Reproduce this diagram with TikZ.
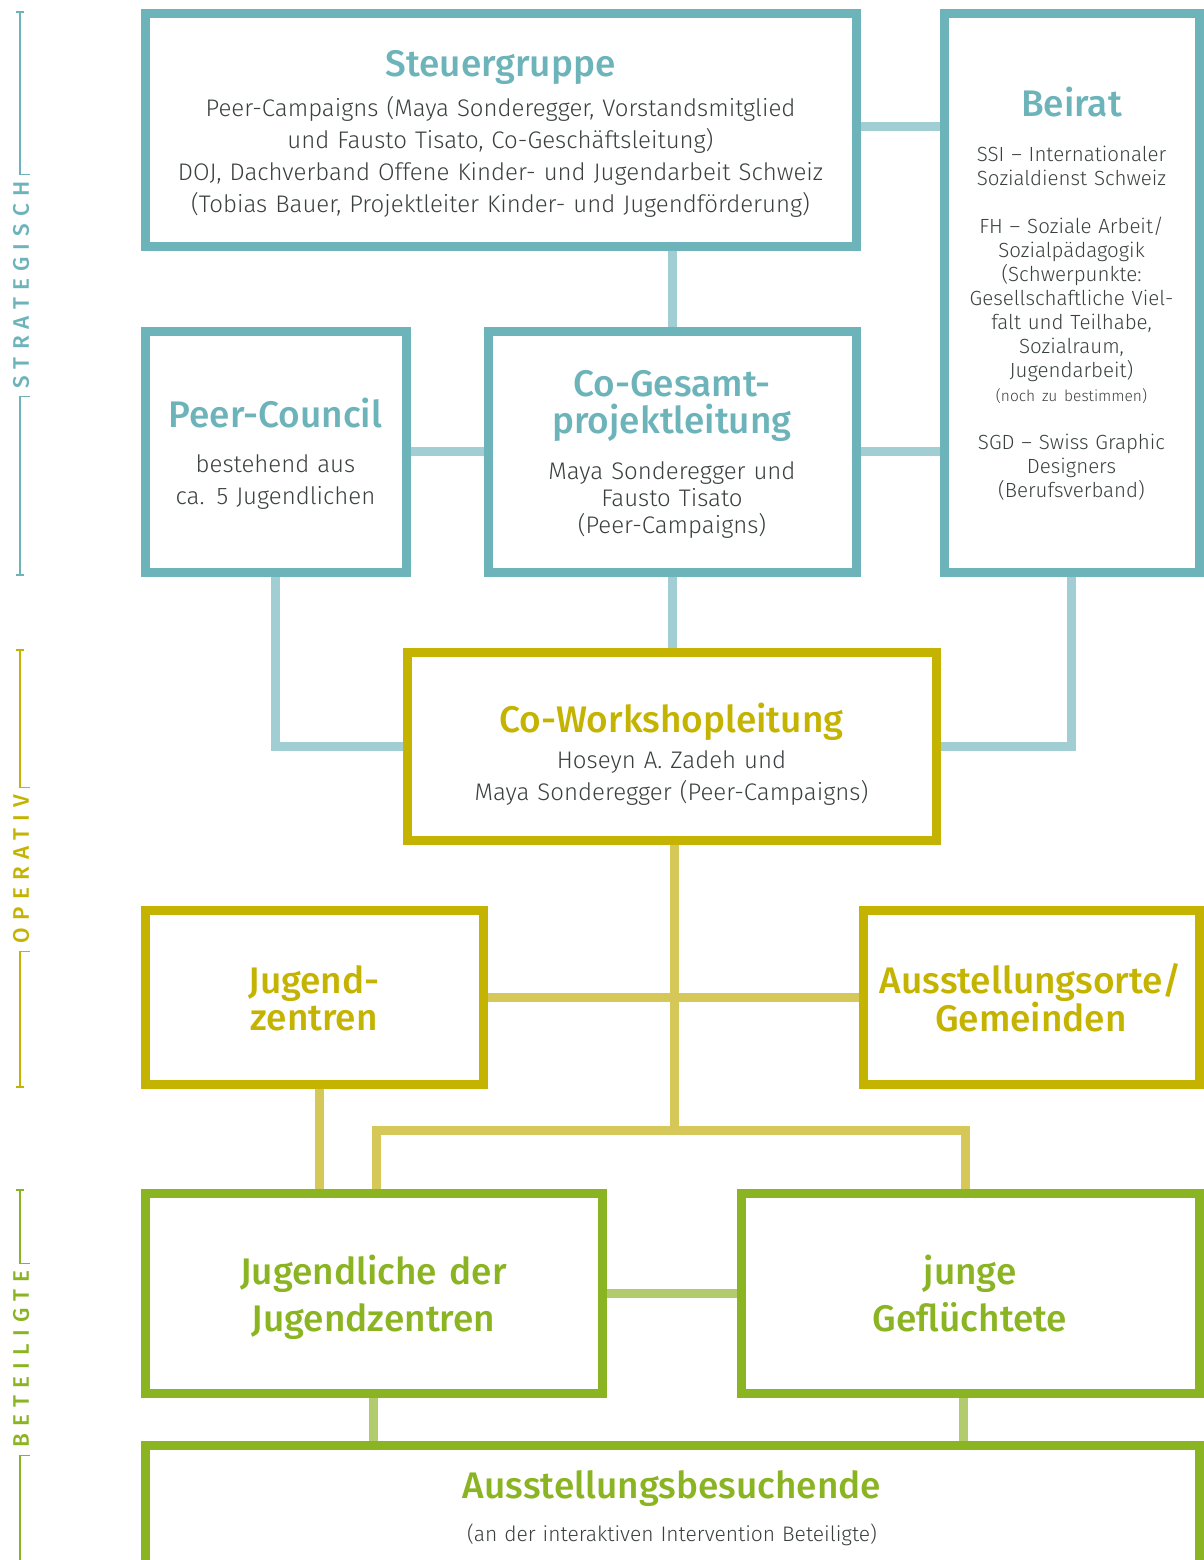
\documentclass[tikz,border=0pt]{standalone}
\usepackage{fontspec}
\setmainfont{Fira Sans Light}
\newfontfamily\headfont{Fira Sans Medium}
\newfontfamily\sidefont{Fira Sans Medium}[LetterSpace=32]
\usetikzlibrary{backgrounds,calc}

\definecolor{tealbox}{HTML}{6DB4BA}
\definecolor{teallink}{HTML}{A0CED2}
\definecolor{olivebox}{HTML}{C4B300}
\definecolor{olivelink}{HTML}{D5C858}
\definecolor{greenbox}{HTML}{8BB422}
\definecolor{greenlink}{HTML}{B2CB6D}
\definecolor{bodytext}{HTML}{3A3F3F}

\begin{document}
\begin{tikzpicture}[x=1pt,y=-1pt,
  box/.style={draw=#1,line width=9pt,inner sep=0pt},
  link/.style={draw=#1,line width=9pt},
  head/.style={text=#1,font=\headfont\fontsize{37}{37}\selectfont,align=center,
    text width=520pt,anchor=base,inner sep=0pt},
  body/.style={text=bodytext,font=\fontsize{24}{32}\selectfont,align=center,
    text width=700pt,anchor=base,inner sep=0pt},
  side/.style={text=#1,font=\sidefont\fontsize{22.5}{23}\selectfont,rotate=90,inner sep=0pt},
  rule/.style={draw=#1,line width=1.3pt}]

\useasboundingbox (0,0) rectangle (1204,1560);

% Ebenen am linken Rand
\node[side=tealbox] (lvl-strat) at (21,285) {STRATEGISCH};
\draw[rule=tealbox] (16,12) -- (24,12) (20,12) -- ($(lvl-strat.east -| 20,0)+(0,-7)$) -- +(10,0)
  ($(lvl-strat.west -| 20,0)+(10,8)$) -- ($(lvl-strat.west -| 20,0)+(0,8)$) -- (20,575)
  (16,575) -- (24,575);
\node[side=olivebox] (lvl-oper) at (21,869) {OPERATIV};
\draw[rule=olivebox] (16,650) -- (24,650) (20,650) -- ($(lvl-oper.east -| 20,0)+(0,-7)$) -- +(10,0)
  ($(lvl-oper.west -| 20,0)+(10,8)$) -- ($(lvl-oper.west -| 20,0)+(0,8)$) -- (20,1087)
  (16,1087) -- (24,1087);
\node[side=greenbox] (lvl-betei) at (21,1359) {BETEILIGTE};
\draw[rule=greenbox] (16,1190) -- (24,1190) (20,1190) -- ($(lvl-betei.east -| 20,0)+(0,-7)$) -- +(10,0)
  ($(lvl-betei.west -| 20,0)+(10,8)$) -- ($(lvl-betei.west -| 20,0)+(0,8)$) -- (20,1560);

% Verbindungen (hinter den Kaesten)
\coordinate (fork) at (674,1130);

% Kaesten
\node[box=tealbox,minimum width=711pt,minimum height=232pt] (steuer) at (500.5,130) {};
\node[box=tealbox,minimum width=255pt,minimum height=558pt] (beirat) at (1071.5,293) {};
\node[box=tealbox,minimum width=261pt,minimum height=241pt] (council) at (275.5,451.5) {};
\node[box=tealbox,minimum width=368pt,minimum height=241pt] (gesamt) at (672,451.5) {};
\node[box=olivebox,minimum width=529pt,minimum height=188pt] (workshop) at (671.5,746) {};
\node[box=olivebox,minimum width=338pt,minimum height=174pt] (jz) at (314,997) {};
\node[box=olivebox,minimum width=336pt,minimum height=174pt] (orte) at (1031,997) {};
\node[box=greenbox,minimum width=457pt,minimum height=200pt] (jugendl) at (373.5,1293) {};
\node[box=greenbox,minimum width=458pt,minimum height=200pt] (gefl) at (970,1293) {};
\node[box=greenbox,minimum width=1054pt,minimum height=175pt] (besuch) at (672,1532.5) {};

% Texte
\node[head=tealbox] (steuer-h) at (500.5,77) {Steuergruppe};
\node[body] (steuer-b) at (500.5,117) {Peer-Campaigns (Maya Sonderegger, Vorstandsmitglied\\
  und Fausto Tisato, Co-Geschäftsleitung)\\
  DOJ, Dachverband Offene Kinder- und Jugendarbeit Schweiz\\
  (Tobias Bauer, Projektleiter Kinder- und Jugendförderung)};

\node[head=tealbox] (beirat-h) at (1071.5,117) {Beirat};
\node[body,font=\fontsize{20.5}{24}\selectfont] (beirat-b) at (1071.5,161) {SSI – Internationaler\\
  Sozialdienst Schweiz\\[24pt]
  FH – Soziale Arbeit/\\ Sozialpädagogik\\ (Schwerpunkte:\\ Gesellschaftliche Viel-\\
  falt und Teilhabe,\\ Sozialraum,\\ Jugendarbeit)\\
  {\fontsize{15.5}{24}\selectfont (noch zu bestimmen)}\\[24pt]
  SGD – Swiss Graphic\\ Designers\\ (Berufsverband)};

\node[head=tealbox] (council-h) at (275.5,427) {Peer-Council};
\node[body] (council-b) at (275.5,472) {bestehend aus\\ ca. 5 Jugendlichen};

\node[head=tealbox] (gesamt-h) at (672,396) {Co-Gesamt-\\ projektleitung};
\node[body,font=\fontsize{24}{27}\selectfont] (gesamt-b) at (672,479) {Maya Sonderegger und\\
  Fausto Tisato\\ (Peer-Campaigns)};

\node[head=olivebox] (workshop-h) at (671.5,732) {Co-Workshopleitung};
\node[body] (workshop-b) at (671.5,768) {Hoseyn A. Zadeh und\\
  Maya Sonderegger (Peer-Campaigns)};

\node[head=olivebox] (jz-h) at (314,993) {Jugend-\\ zentren};
\node[head=olivebox] (orte-h) at (1031,993) {Ausstellungsorte/\\ Gemeinden};

\node[head=greenbox,font=\headfont\fontsize{37}{47}\selectfont] (jugendl-h) at (373.5,1284) {Jugendliche der\\ Jugendzentren};
\node[head=greenbox,font=\headfont\fontsize{37}{47}\selectfont] (gefl-h) at (970,1284) {junge\\ Geflüchtete};

\node[head=greenbox] (besuch-h) at (672,1498) {Ausstellungsbesuchende};
\node[body,font=\fontsize{21}{24}\selectfont] (besuch-b) at (672,1541) {(an der interaktiven Intervention Beteiligte)};

\begin{scope}[on background layer]
  \draw[link=teallink] (steuer.east |- 0,127) -- (beirat.west |- 0,127);
  \draw[link=teallink] (gesamt.north) -- (gesamt.north |- steuer.south);
  \draw[link=teallink] (council.east) -- (gesamt.west |- council.east);
  \draw[link=teallink] (gesamt.east) -- (beirat.west |- gesamt.east);
  \draw[link=teallink] (gesamt.south) -- (gesamt.south |- workshop.north);
  \draw[link=teallink] (council.south) |- (workshop.west);
  \draw[link=teallink] (beirat.south) |- (workshop.east);

  \draw[link=olivelink] (workshop.south -| fork) -- (fork);
  \draw[link=olivelink] (jz.east) -- (orte.west);
  \draw[link=olivelink] (jz.south -| 319,0) -- (jugendl.north -| 319,0);
  \draw[link=olivelink] (jugendl.north -| 376,0) |- (fork) -| (gefl.north -| 965,0);

  \draw[link=greenlink] (jugendl.east) -- (gefl.west);
  \draw[link=greenlink] (jugendl.south) -- (jugendl.south |- besuch.north);
  \draw[link=greenlink] (gefl.south -| 963,0) -- (besuch.north -| 963,0);
\end{scope}

\end{tikzpicture}
\end{document}
